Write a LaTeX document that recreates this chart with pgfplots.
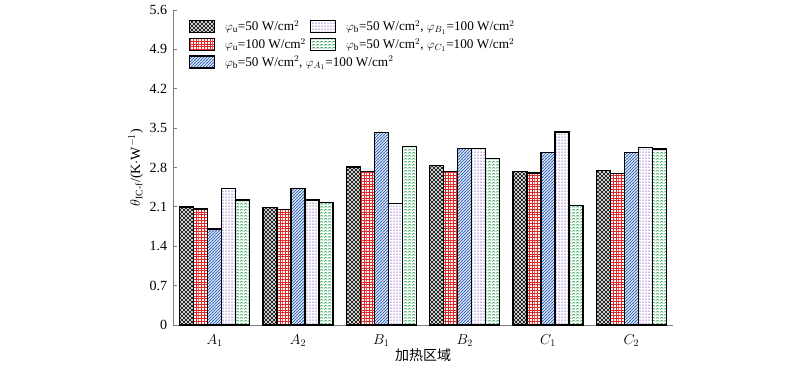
\documentclass[border=0pt]{standalone}
\usepackage{amsmath}
\usepackage{pgfplots}
\pgfplotsset{compat=1.18}
\usetikzlibrary{patterns}
\usepackage{fontspec}
\setmainfont{Liberation Serif}
\newfontfamily\cjk{Noto Sans CJK SC}
\definecolor{cblack}{RGB}{40,40,40}
\definecolor{cred}{RGB}{225,40,40}
\definecolor{cblue}{RGB}{60,110,190}
\definecolor{cpurple}{RGB}{150,115,205}
\definecolor{cgreen}{RGB}{40,160,80}
\definecolor{axgray}{RGB}{128,128,128}
\pgfdeclarepatternformonly{xhatch}{\pgfpoint{-1pt}{-1pt}}{\pgfpoint{5pt}{5pt}}{\pgfpoint{4pt}{4pt}}{%
  \pgfsetlinewidth{1.0pt}%
  \pgfpathmoveto{\pgfpoint{0pt}{0pt}}\pgfpathlineto{\pgfpoint{4pt}{4pt}}%
  \pgfpathmoveto{\pgfpoint{0pt}{4pt}}\pgfpathlineto{\pgfpoint{4pt}{0pt}}%
  \pgfusepath{stroke}}
\pgfdeclarepatternformonly{mygrid}{\pgfpoint{-0.5pt}{-0.5pt}}{\pgfpoint{3pt}{3pt}}{\pgfpoint{2.8pt}{2.8pt}}{%
  \pgfsetlinewidth{0.7pt}%
  \pgfpathmoveto{\pgfpoint{0pt}{0pt}}\pgfpathlineto{\pgfpoint{2.8pt}{0pt}}%
  \pgfpathmoveto{\pgfpoint{0pt}{0pt}}\pgfpathlineto{\pgfpoint{0pt}{2.8pt}}%
  \pgfusepath{stroke}}
\pgfdeclarepatternformonly{myne}{\pgfpoint{-1pt}{-1pt}}{\pgfpoint{4pt}{4pt}}{\pgfpoint{3pt}{3pt}}{%
  \pgfsetlinewidth{0.8pt}%
  \pgfpathmoveto{\pgfpoint{-0.5pt}{-0.5pt}}\pgfpathlineto{\pgfpoint{3.5pt}{3.5pt}}%
  \pgfusepath{stroke}}
\pgfdeclarepatternformonly{mydots}{\pgfpoint{-1pt}{-1pt}}{\pgfpoint{3pt}{3pt}}{\pgfpoint{3pt}{3pt}}{%
  \pgfpathcircle{\pgfpoint{1pt}{1pt}}{0.75pt}%
  \pgfusepath{fill}}
\pgfdeclarepatternformonly{zigzag}{\pgfpointorigin}{\pgfpoint{4pt}{3pt}}{\pgfpoint{4pt}{3pt}}{%
  \pgfsetlinewidth{0.8pt}%
  \pgfpathmoveto{\pgfpoint{0pt}{0.9pt}}%
  \pgfpathlineto{\pgfpoint{2pt}{2.1pt}}%
  \pgfpathlineto{\pgfpoint{4pt}{0.9pt}}%
  \pgfusepath{stroke}}
\pgfplotstableread{
x s1 s2 s3 s4 s5
0 2.10 2.06 1.71 2.43 2.22
1 2.09 2.05 2.43 2.22 2.18
2 2.81 2.73 3.42 2.16 3.17
3 2.84 2.73 3.14 3.14 2.96
4 2.73 2.70 3.07 3.43 2.12
5 2.75 2.69 3.07 3.16 3.13
}\datatable
\pgfplotsset{
  mylegend/.style={legend image code/.code={\draw[##1,line width=1.4pt] (0pt,-6pt) rectangle (25pt,6pt);}},
  mybar/.style={forget plot, draw=black, line width=1.4pt},
}
\begin{document}
\fontsize{14}{17}\selectfont
\begin{tikzpicture}
\begin{axis}[
  scale only axis, width=500pt, height=315pt,
  at={(0,0)}, anchor=south west,
  xmin=-0.5, xmax=5.5, ymin=0, ymax=5.6,
  ytick={0,0.7,1.4,2.1,2.8,3.5,4.2,4.9,5.6},
  yticklabels={0,0.7,1.4,2.1,2.8,3.5,4.2,4.9,5.6},
  xtick={0,1,2,3,4,5},
  xticklabels={$A_1$,$A_2$,$B_1$,$B_2$,$C_1$,$C_2$},
  axis x line*=bottom, axis y line*=left,
  axis line style={axgray, line width=0.9pt, -},
  major x tick style={draw=none},
  major y tick style={axgray, line width=0.9pt},
  major tick length=4pt, tick align=inside,
  tick label style={font=\fontsize{14}{17}\selectfont},
  yticklabel style={xshift=-1pt},
  xticklabel style={yshift=-1pt},
  ylabel={$\theta_{\mathrm{IC\text{-}f}}$/(K$\cdot$W$^{-1}$)},
  xlabel={\cjk 加热区域},
  label style={font=\fontsize{14}{17}\selectfont},
  ylabel style={yshift=-3pt},
  xlabel style={yshift=8pt},
  ybar, bar width=0.168,
  legend columns=2,
  legend style={at={(rel axis cs:0.025,0.98)}, anchor=north west, draw=none, fill=none,
    font=\fontsize{13.2}{16}\selectfont, column sep=8pt, row sep=1.5pt,
    /tikz/every even column/.append style={column sep=2pt}},
  legend cell align=left,
]
\addplot[mybar, bar shift=-0.336, pattern=xhatch, pattern color=cblack] table[x=x,y=s1] {\datatable};
\addplot[mybar, bar shift=-0.168, pattern=mygrid, pattern color=cred] table[x=x,y=s2] {\datatable};
\addplot[mybar, bar shift=0, pattern=myne, pattern color=cblue] table[x=x,y=s3] {\datatable};
\addplot[mybar, bar shift=0.168, pattern=mydots, pattern color=cpurple] table[x=x,y=s4] {\datatable};
\addplot[mybar, bar shift=0.336, pattern=zigzag, pattern color=cgreen] table[x=x,y=s5] {\datatable};
\addlegendimage{mylegend, pattern=xhatch, pattern color=cblack, draw=black}
\addlegendentry{$\varphi_{\mathrm{u}}$=50 W/cm$^2$}
\addlegendimage{mylegend, pattern=mydots, pattern color=cpurple, draw=black}
\addlegendentry{$\varphi_{\mathrm{b}}$=50 W/cm$^2$, $\varphi_{B_1}$=100 W/cm$^2$}
\addlegendimage{mylegend, pattern=mygrid, pattern color=cred, draw=black}
\addlegendentry{$\varphi_{\mathrm{u}}$=100 W/cm$^2$}
\addlegendimage{mylegend, pattern=zigzag, pattern color=cgreen, draw=black}
\addlegendentry{$\varphi_{\mathrm{b}}$=50 W/cm$^2$, $\varphi_{C_1}$=100 W/cm$^2$}
\addlegendimage{mylegend, pattern=myne, pattern color=cblue, draw=black}
\addlegendentry{\rlap{$\varphi_{\mathrm{b}}$=50 W/cm$^2$, $\varphi_{A_1}$=100 W/cm$^2$}}
\end{axis}
\path[use as bounding box] (-173pt,-40pt) rectangle (627pt,325pt);
\end{tikzpicture}
\end{document}
